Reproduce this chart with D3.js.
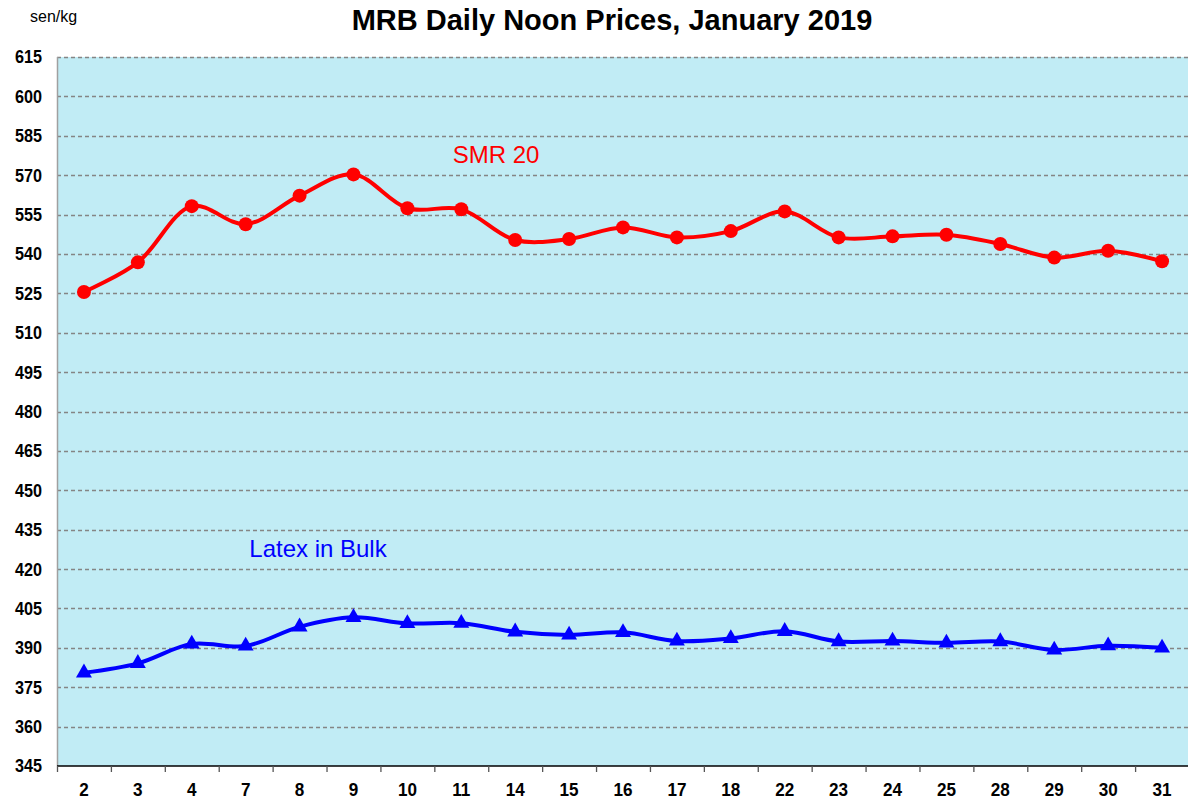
<!DOCTYPE html>
<meta charset="utf-8">
<script src="https://d3js.org/d3.v7.min.js"></script>
<style>
  body { margin: 0; background: #fff; font-family: "Liberation Sans", Arial, sans-serif; }
</style>
<div id="chart"></div>
<script>
// trading days of January 2019
var days = ["2","3","4","7","8","9","10","11","14","15","16","17","18","22","23","24","25","28","29","30","31"];
var smr20 = [525.5, 536.8, 558.2, 551.3, 562.2, 570.3, 557.4, 557.0, 545.3, 545.7, 550.1, 546.3, 548.7, 556.2, 546.3, 546.7, 547.3, 543.8, 538.6, 541.2, 537.2];
var latex = [380.5, 384.1, 391.5, 390.7, 398.0, 401.6, 399.3, 399.4, 396.1, 394.9, 395.9, 392.6, 393.6, 396.3, 392.4, 392.6, 391.9, 392.4, 389.2, 390.8, 390.0];
var yTicks = d3.range(345, 616, 15);

var W = 1188, H = 805;
var margin = {top: 57, right: -1, bottom: 39, left: 57};

var svg = d3.select("#chart").append("svg")
  .attr("width", W).attr("height", H);

var x = d3.scaleBand().domain(days).range([margin.left, W - margin.right]);
var y = d3.scaleLinear().domain([345, 615]).range([H - margin.bottom, margin.top]);

// plot background
svg.append("rect")
  .attr("x", margin.left).attr("y", y(615))
  .attr("width", x.range()[1] - margin.left)
  .attr("height", y(345) - y(615))
  .attr("fill", "#C1ECF5");

// dashed gridlines
svg.append("g").selectAll("line")
  .data(yTicks.filter(function(d) { return d > 345; }))
  .join("line")
    .attr("x1", margin.left).attr("x2", x.range()[1])
    .attr("y1", function(d) { return Math.round(y(d)) + 0.5; })
    .attr("y2", function(d) { return Math.round(y(d)) + 0.5; })
    .attr("stroke", "#858585")
    .attr("stroke-width", 1.3)
    .attr("stroke-dasharray", "4,3");

// left axis line
svg.append("line")
  .attr("x1", margin.left + 0.5).attr("x2", margin.left + 0.5)
  .attr("y1", y(615)).attr("y2", y(345))
  .attr("stroke", "#a0a0a0").attr("stroke-width", 1.5);

// y tick labels (squeezed a little to look like a narrow face)
svg.append("g").selectAll("text")
  .data(yTicks)
  .join("text")
    .attr("transform", function(d) { return "translate(42," + y(d) + ") scale(0.9,1)"; })
    .attr("dy", "0.36em")
    .attr("text-anchor", "end")
    .style("font-weight", "bold")
    .style("font-size", "18px")
    .text(function(d) { return d; });

// x axis
var xAxis = svg.append("g")
  .attr("transform", "translate(0," + y(345) + ")");
xAxis.append("line")
  .attr("x1", margin.left).attr("x2", x.range()[1])
  .attr("stroke", "#000").attr("stroke-width", 1.5);
xAxis.selectAll(".tk")
  .data(days)
  .join("line")
    .attr("class", "tk")
    .attr("x1", function(d) { return x(d) + 0.5; })
    .attr("x2", function(d) { return x(d) + 0.5; })
    .attr("y1", 0).attr("y2", 6)
    .attr("stroke", "#555").attr("stroke-width", 1.3);
xAxis.selectAll("text")
  .data(days)
  .join("text")
    .attr("transform", function(d) { return "translate(" + (x(d) + x.bandwidth() / 2) + ",30) scale(0.9,1)"; })
    .attr("text-anchor", "middle")
    .style("font-weight", "bold")
    .style("font-size", "19px")
    .text(function(d) { return d; });

function cx(d, i) { return x(days[i]) + x.bandwidth() / 2; }

var line = d3.line()
  .x(function(d, i) { return cx(d, i); })
  .y(function(d) { return y(d); })
  .curve(d3.curveCatmullRom);

// SMR 20
svg.append("path")
  .datum(smr20)
  .attr("d", line)
  .attr("fill", "none")
  .attr("stroke", "#FF0000")
  .attr("stroke-width", 4);
svg.append("g").selectAll("circle")
  .data(smr20)
  .join("circle")
    .attr("cx", cx)
    .attr("cy", function(d) { return y(d); })
    .attr("r", 7)
    .attr("fill", "#FF0000");

// Latex in Bulk
svg.append("path")
  .datum(latex)
  .attr("d", line)
  .attr("fill", "none")
  .attr("stroke", "#0000FF")
  .attr("stroke-width", 4);
var tri = d3.symbol().type(d3.symbolTriangle).size(110);
svg.append("g").selectAll("path")
  .data(latex)
  .join("path")
    .attr("d", tri)
    .attr("transform", function(d, i) { return "translate(" + cx(d, i) + "," + y(d) + ")"; })
    .attr("fill", "#0000FF");

// series labels
svg.append("text")
  .attr("x", 496).attr("y", 163)
  .attr("text-anchor", "middle")
  .style("font-size", "24px")
  .style("fill", "#FF0000")
  .text("SMR 20");
svg.append("text")
  .attr("x", 318).attr("y", 557)
  .attr("text-anchor", "middle")
  .style("font-size", "24px")
  .style("fill", "#0000FF")
  .text("Latex in Bulk");

// title and unit
svg.append("text")
  .attr("x", 612).attr("y", 30)
  .attr("text-anchor", "middle")
  .style("font-size", "29px")
  .style("font-weight", "bold")
  .text("MRB Daily Noon Prices, January 2019");
svg.append("text")
  .attr("x", 30).attr("y", 22)
  .style("font-size", "16px")
  .text("sen/kg");
</script>
